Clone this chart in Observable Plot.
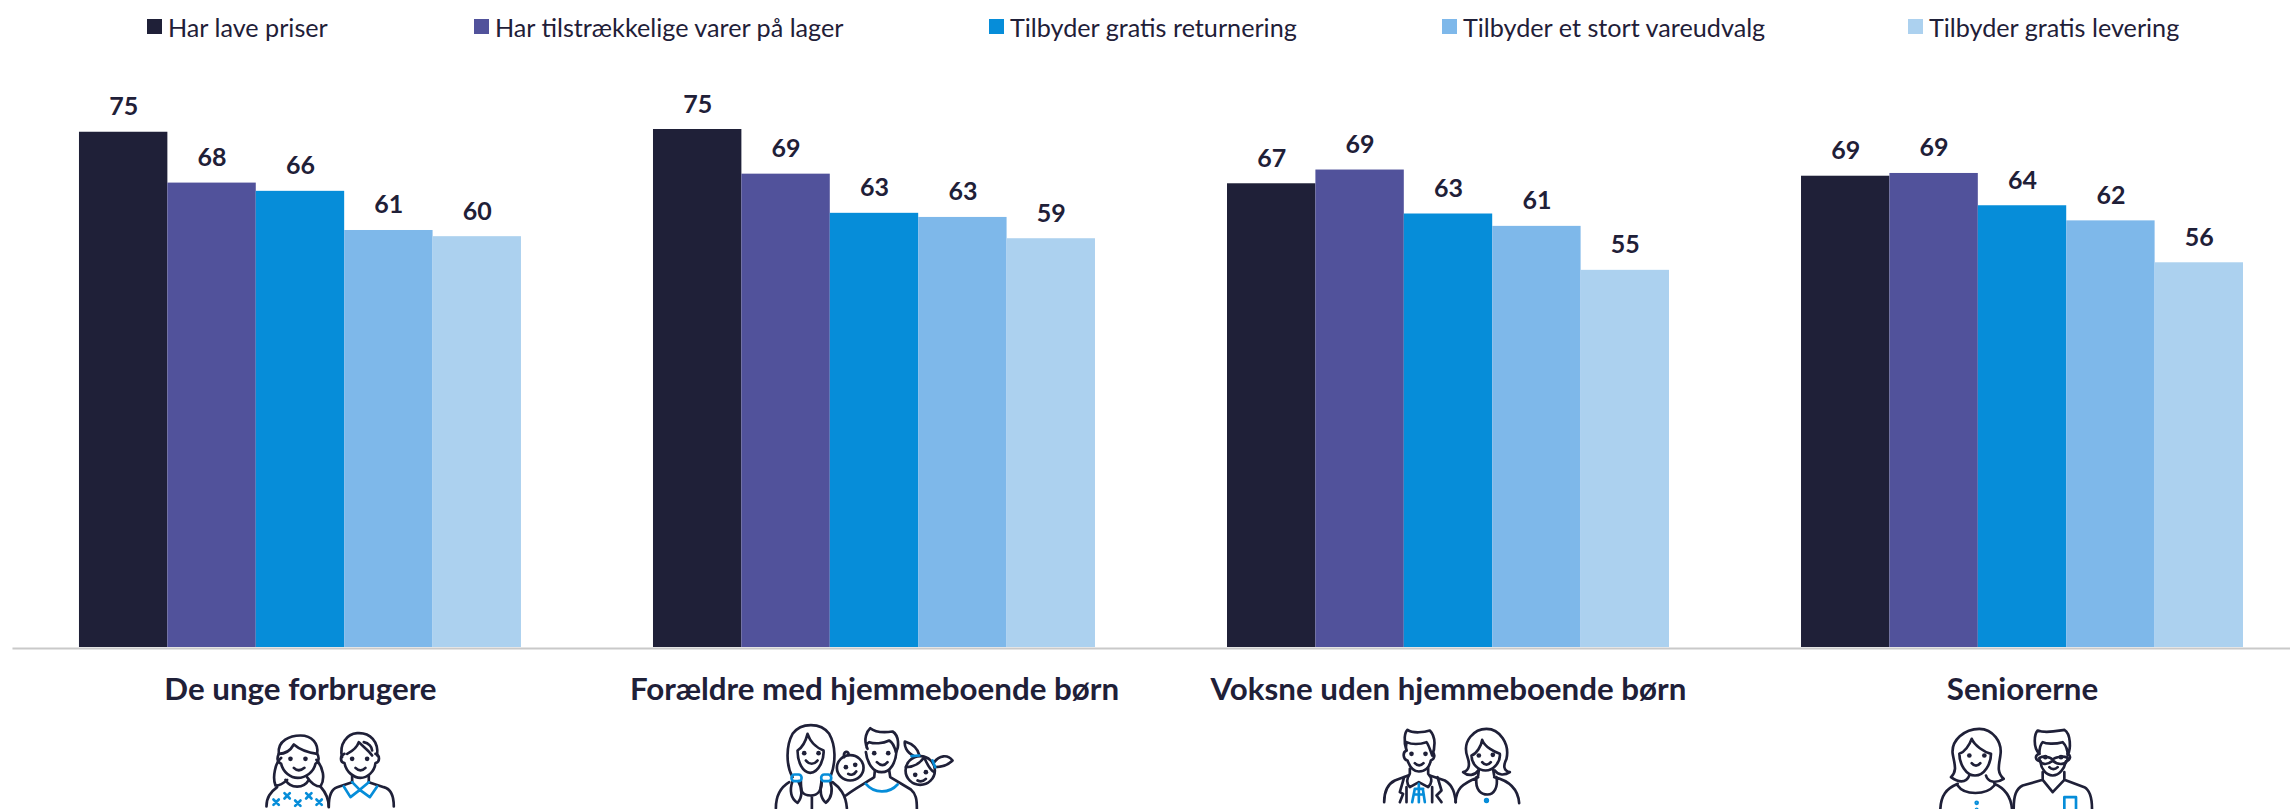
<!DOCTYPE html>
<html lang="da">
<head>
<meta charset="utf-8">
<script src="https://cdn.jsdelivr.net/npm/d3@7"></script>
<script src="https://cdn.jsdelivr.net/npm/@observablehq/plot@0.6"></script>
<style>
html,body{margin:0;padding:0;background:#fff;width:2290px;height:809px;overflow:hidden}
#legend{position:relative;width:2290px;height:54px;font-family:Lato,sans-serif;font-size:25.2px;color:#1f2038}
.item{position:absolute;top:0;height:53px;display:flex;align-items:center;white-space:nowrap}
.sw{width:15px;height:15px;margin-right:6px;display:inline-block}
#chart svg{display:block;overflow:hidden}
</style>
</head>
<body>
<div id="legend"></div>
<div id="chart"></div>
<script>
const groups = ["De unge forbrugere","Forældre med hjemmeboende børn","Voksne uden hjemmeboende børn","Seniorerne"];
const series = ["Har lave priser","Har tilstrækkelige varer på lager","Tilbyder gratis returnering","Tilbyder et stort vareudvalg","Tilbyder gratis levering"];
const colors = ["#1f2038","#51529b","#068dd9","#7eb8ea","#acd1ef"];
const heights = [
  [75.0,67.6,66.4,60.7,59.8],
  [75.4,68.9,63.2,62.6,59.5],
  [67.5,69.5,63.1,61.3,54.9],
  [68.6,69.0,64.3,62.1,56.0]
];
const printed = [
  [75,68,66,61,60],
  [75,69,63,63,59],
  [67,69,63,61,55],
  [69,69,64,62,56]
];
const legendLeft = [147,474,989,1442,1908];

const rows = groups.flatMap((g,i)=>series.map((s,j)=>({group:g,series:s,value:heights[i][j],label:printed[i][j]})));

const dark = "#1f2038", blue = "#068dd9";
const dots = (pts,r=7)=>pts.map(([x,y])=>`<circle cx="${x}" cy="${y}" r="${r}" fill="${dark}" stroke="none"/>`).join("");
const crosses = pts=>pts.map(([x,y])=>`<path d="M${x-8} ${y-8}L${x+8} ${y+8}M${x-8} ${y+8}L${x+8} ${y-8}"/>`).join("");
const iconBodies = [
 {tx:180,ty:33,dark:`
  <path d="M115 100C110 60 150 45 180 45C215 45 235 70 230 100C195 95 175 85 160 72C150 90 135 100 115 100"/>
  <path d="M115 100C110 110 108 125 122 130C128 155 150 172 172 172C195 172 220 155 225 130C238 125 235 105 230 100"/>
  <path d="M122 112C105 125 95 170 105 195C115 195 130 188 140 178M228 118C248 140 255 175 240 198C225 198 210 185 200 170"/>
  <path d="M135 178C150 205 190 205 205 178M78 258C78 230 90 215 110 200M240 198C255 215 265 240 265 260"/>
  <path d="M160 142C170 152 180 152 192 142"/>${dots([[150,115],[195,115]])}
  <path d="M305 110C295 70 320 40 350 38C390 35 415 65 410 105M320 100C340 90 350 80 355 65C370 80 385 90 395 105M370 65C385 68 395 80 395 90"/>
  <path d="M312 100C298 105 298 125 312 128C318 155 340 172 360 172C380 172 402 155 405 128C418 125 420 105 405 100"/>
  <path d="M345 142C355 152 365 152 375 142M335 165L335 185M385 165L385 185"/>${dots([[335,115],[380,115]])}
  <path d="M265 258C265 225 275 205 290 200L335 185M385 185L430 200C450 205 460 225 460 258"/>`,
  blue:`${crosses([[107,245],[140,226],[172,248],[205,226],[236,245]])}<path d="M310 198L330 230L358 208L388 230L410 198M335 185L358 208L385 185"/>`},
 {tx:-10.8,ty:18,dark:`
  <path d="M125 185C105 150 105 90 125 55C150 20 210 20 235 55C255 90 255 140 240 180"/>
  <path d="M140 105C155 95 165 75 170 55C180 85 205 100 218 105C220 130 205 170 178 172C155 170 140 140 140 105Z"/>
  <path d="M165 135C175 148 190 148 200 135"/>${dots([[160,113],[203,113]])}
  <path d="M125 197C115 225 120 250 140 262C155 245 155 220 142 197M212 197C205 225 210 250 225 262C245 245 245 220 238 197"/>
  <path d="M115 200C90 215 75 240 75 278M245 200C265 215 285 235 288 278M150 195C150 225 150 240 180 240C200 240 215 225 212 195M183 240L183 280"/>
  <ellipse cx="298" cy="157" rx="40" ry="38"/><path d="M280 125C275 105 295 105 293 118M292 175C300 180 310 178 316 168"/>${dots([[285,155],[313,148]])}
  <path d="M350 100C335 70 350 45 358 38C375 52 410 50 425 48C445 60 445 95 435 110C430 90 425 80 415 75C395 85 370 85 355 80C345 85 345 95 350 100"/>
  <path d="M345 110C348 140 365 170 392 170C420 170 435 140 437 105M378 140C390 152 400 152 410 140"/>${dots([[370,113],[412,113]])}
  <path d="M372 165L370 185C340 205 310 220 285 240M415 165L418 185L480 222C495 235 498 250 498 280"/>
  <ellipse cx="508" cy="165" rx="44" ry="43"/><path d="M465 155C490 155 510 140 520 125C530 150 540 165 550 170M500 195C510 200 520 195 525 190"/>${dots([[493,178],[525,170]])}
  <path d="M490 122C465 110 460 90 462 78C485 85 500 100 505 118M550 140C565 120 590 115 605 135C590 150 570 155 552 155"/>`,
  blue:`<rect x="122" y="177" width="30" height="20" rx="9"/><rect x="211" y="177" width="30" height="20" rx="9"/>
  <path d="M345 205C370 235 415 235 440 207M482 122L505 120M545 135L553 155"/>`},
 {tx:99,ty:33,dark:`
  <path d="M135 90C125 60 130 35 138 28C155 40 190 35 205 30C225 50 220 85 212 105C205 85 200 70 195 65C175 72 150 72 135 65C132 80 135 90 135 90"/>
  <path d="M135 90C122 95 125 118 138 120C145 140 155 153 172 153C195 153 205 135 208 120C220 115 222 100 212 95M160 128C168 137 178 137 186 128"/>${dots([[150,100],[192,100]])}
  <path d="M145 145L145 160M200 140L200 160M145 160C135 175 135 190 145 200L172 185L200 200C210 190 215 175 200 160"/>
  <path d="M128 170L115 215L125 220L115 245M228 170L240 210L225 225L240 245"/>
  <path d="M68 245C68 210 80 190 100 180L140 165M205 165L250 180C275 195 280 220 283 245M135 200L135 245M212 200L212 245"/>
  <path d="M305 155C325 150 325 130 318 110C300 60 340 25 375 25C415 25 445 70 435 115C425 135 425 150 445 155C430 165 410 165 400 150M305 155C320 168 340 165 350 150"/>
  <path d="M330 105C345 100 360 75 362 58C370 80 400 95 415 100C418 125 395 150 372 150C350 150 330 130 330 105ZM362 125C370 135 380 135 388 125"/>${dots([[352,105],[394,103]])}
  <path d="M352 148L350 165M395 148L398 165M282 245C285 205 300 190 350 170M398 170C440 180 470 205 473 248M345 170C340 210 360 222 378 222C398 222 410 200 405 170"/>`,
  blue:`<path d="M160 205L185 205M172 190L172 245M160 205L152 245M184 205L190 245M158 222L187 222"/><circle cx="375" cy="240" r="4"/>`},
 {tx:85.5,ty:33,dark:`
  <path d="M60 170C80 150 70 130 65 100C60 60 100 25 145 25C185 25 215 65 208 105C205 130 195 155 218 175C195 190 170 185 165 165M60 170C80 185 105 190 115 165"/>
  <path d="M85 100C100 95 115 75 122 55C130 75 160 95 180 100C180 130 160 165 132 165C105 165 85 130 85 100ZM122 128C130 138 140 138 148 128"/>${dots([[115,105],[160,105]])}
  <path d="M28 265C30 225 45 205 80 190M190 190C225 205 240 235 243 265M80 195C100 225 165 225 190 195"/>
  <path d="M325 100C305 80 310 40 320 30C345 40 385 30 400 28C420 40 420 85 410 105C410 85 400 70 395 65C370 72 345 70 335 65C325 75 325 90 325 100"/>
  <path d="M325 100C310 105 312 120 328 122C330 145 345 165 365 165C385 165 400 145 405 122C420 118 420 105 410 100"/>
  <path d="M325 112C340 105 360 110 365 118C370 110 395 105 410 112C410 135 380 135 365 120C350 135 325 135 325 112ZM355 140C362 148 372 148 380 140"/>${dots([[343,110],[390,110]])}
  <path d="M335 155L335 178L365 215L400 178L400 155M248 265C248 225 255 205 275 195L335 178M400 178L460 200C478 210 483 235 483 265"/>`,
  blue:`<path d="M400 265L400 230L435 230L435 265"/><circle cx="137" cy="247" r="3"/><circle cx="137" cy="267" r="2"/>`}
];
const icons = iconBodies.map(ic=>"data:image/svg+xml,"+encodeURIComponent(
 `<svg xmlns="http://www.w3.org/2000/svg" width="240" height="100" viewBox="0 0 720 300"><g transform="translate(${ic.tx} ${ic.ty})" fill="none" stroke-width="8" stroke-linecap="round" stroke-linejoin="round"><g stroke="${dark}">${ic.dark}</g><g stroke="${blue}">${ic.blue}</g></g></svg>`));
const iconRows = groups.map((g,i)=>({group:g,src:icons[i]}));

const legend = document.getElementById("legend");
series.forEach((s,i)=>{
  const el=document.createElement("div");el.className="item";el.style.left=legendLeft[i]+"px";
  const sw=document.createElement("span");sw.className="sw";sw.style.background=colors[i];
  el.append(sw,document.createTextNode(s));legend.append(el);
});

const chart = Plot.plot({
  width:2290,height:755,marginTop:43.4,marginBottom:162,marginLeft:13,marginRight:0,
  style:{fontFamily:"Lato,sans-serif",color:dark,background:"#fff"},
  fx:{domain:groups,paddingInner:0.23,paddingOuter:0.0984,align:0.584,round:false,label:null},
  x:{domain:series,axis:null,padding:0,round:false},
  y:{domain:[0,80],axis:null},
  color:{domain:series,range:colors},
  marks:[
    Plot.barY(rows,{fx:"group",x:"series",y:"value",fill:"series"}),
    Plot.text(rows,{fx:"group",x:"series",y:"value",text:"label",fontSize:25,fontWeight:700,fill:dark,lineAnchor:"bottom",dy:-17}),
    Plot.frame({anchor:"bottom",facet:"super",stroke:"#c9c9c9",strokeWidth:2,dy:1,insetLeft:-66,insetRight:-47}),
    Plot.axisFx({anchor:"bottom",tickSize:0,tickPadding:30,fontSize:31.3,fontWeight:700,label:null,fill:dark}),
    Plot.image(iconRows,{fx:"group",src:"src",frameAnchor:"bottom",width:240,height:100,dy:112})
  ]
});
document.getElementById("chart").append(chart);
</script>
</body>
</html>
